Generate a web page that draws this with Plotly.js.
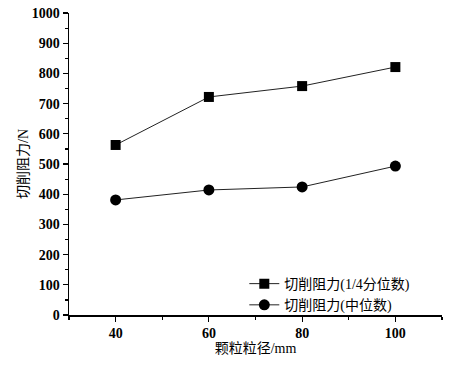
<!DOCTYPE html>
<html><head><meta charset="utf-8">
<script src="https://cdn.plot.ly/plotly-3.0.1.min.js"></script>
<style>body{margin:0;background:#fff}#c{width:453px;height:367px}</style>
</head><body><div id="c"></div>
<script>
const sizes = [40, 60, 80, 100];
const quartile = [563, 722, 758, 821];
const median = [381, 414, 424, 493];
const seriesNames = ['切削阻力(1/4分位数)', '切削阻力(中位数)'];
const xTitle = '颗粒粒径/mm';
const yTitle = '切削阻力/N';

const font = '"Liberation Serif", "Noto Sans CJK SC", serif';
const traces = [
  {x: sizes, y: quartile, name: seriesNames[0], mode: 'lines+markers',
   line: {color: '#222', width: 1}, marker: {symbol: 'square', size: 10, color: '#000'}},
  {x: sizes, y: median, name: seriesNames[1], mode: 'lines+markers',
   line: {color: '#222', width: 1}, marker: {symbol: 'circle', size: 11, color: '#000'}}
];
const axisCommon = {showgrid: false, zeroline: false, showline: true, linecolor: '#000', linewidth: 1.5,
  ticks: 'outside', ticklen: 5, tickwidth: 1.2, tickcolor: '#000',
  tickfont: {family: font, size: 14, color: '#000', weight: 'bold'}};
const layout = {
  width: 453, height: 367,
  margin: {l: 69, r: 11, t: 13, b: 52},
  paper_bgcolor: '#fff', plot_bgcolor: '#fff',
  font: {family: font, color: '#000'},
  xaxis: Object.assign({}, axisCommon, {range: [30, 110], tickvals: sizes,
    minor: {dtick: 10, tick0: 30, ticklen: 3, tickcolor: '#000', ticks: 'outside'},
    title: {text: xTitle, font: {family: font, size: 14}, standoff: 2}}),
  yaxis: Object.assign({}, axisCommon, {range: [0, 1000], dtick: 100,
    minor: {dtick: 50, ticklen: 3, tickcolor: '#000', ticks: 'outside'},
    title: {text: yTitle, font: {family: font, size: 14}, standoff: 0}}),
  showlegend: true,
  legend: {x: 0.47, y: -0.02, xanchor: 'left', yanchor: 'bottom', bgcolor: 'rgba(0,0,0,0)',
    font: {family: font, size: 14, color: '#000'}, tracegroupgap: 0, itemwidth: 30}
};
Plotly.newPlot('c', traces, layout, {staticPlot: true, displayModeBar: false});
</script></body></html>
